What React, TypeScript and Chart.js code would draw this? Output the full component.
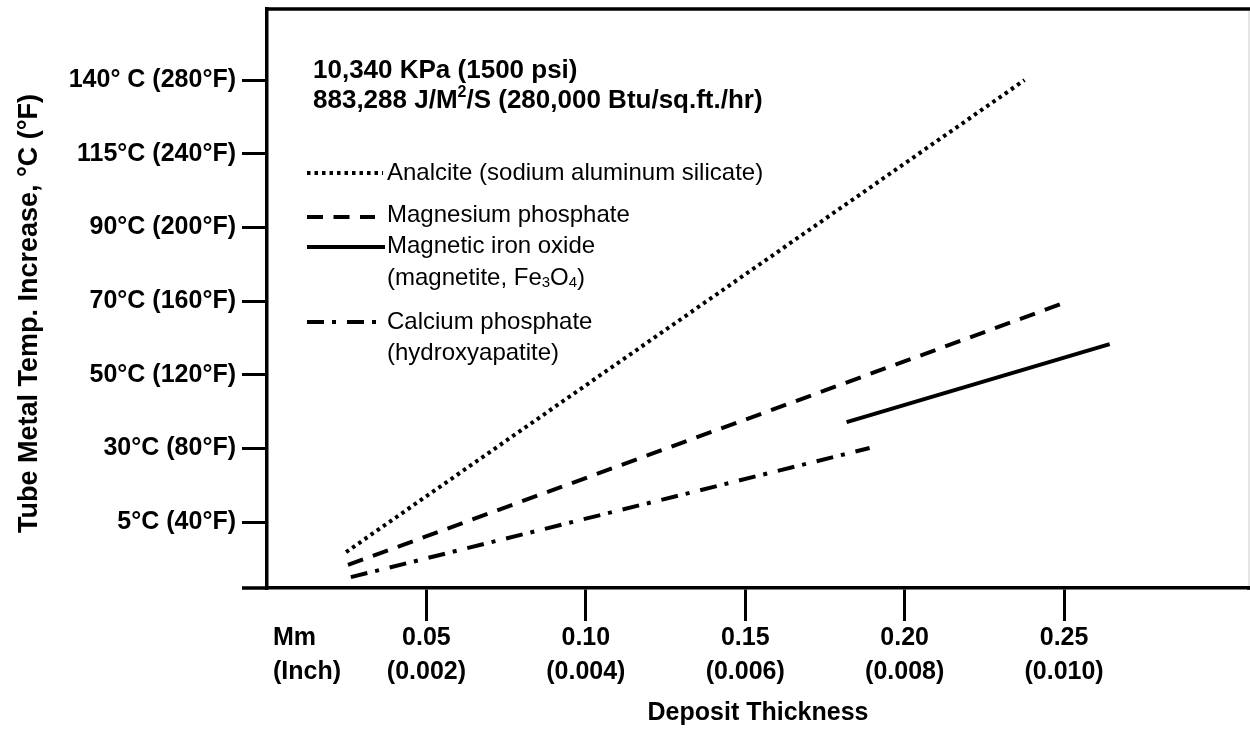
import React, { useEffect, useRef } from "react";
import { Chart, registerables } from "chart.js";
Chart.register(...registerables);

const FONT = "'Liberation Sans', Arial, Helvetica, sans-serif";

// X axis: deposit thickness (mm), with inch equivalents
const xTickValues = [0.05, 0.1, 0.15, 0.2, 0.25];
const xTickMm = ["0.05", "0.10", "0.15", "0.20", "0.25"];
const xTickInch = ["(0.002)", "(0.004)", "(0.006)", "(0.008)", "(0.010)"];
const xUnitLabels = ["Mm", "(Inch)"];

// Y axis: tube metal temperature increase (°F scale, labelled in °C and °F)
const yTickValues = [40, 80, 120, 160, 200, 240, 280];
const yTickLabels = [
  "5°C (40°F)",
  "30°C (80°F)",
  "50°C (120°F)",
  "70°C (160°F)",
  "90°C (200°F)",
  "115°C (240°F)",
  "140° C (280°F)",
];

// Series (x = mm, y = °F)
const analciteX = [0.0248, 0.2376];
const analciteY = [23.7, 280];
const magPhosX = [0.0254, 0.2508];
const magPhosY = [16.7, 159.5];
const magnetiteX = [0.1818, 0.2643];
const magnetiteY = [94.3, 136.6];
const calPhosX = [0.0263, 0.189];
const calPhosY = [10.1, 80.2];

const titleLine1 = [{ t: "10,340 KPa (1500 psi)" }];
const titleLine2 = [
  { t: "883,288 J/M" },
  { t: "2", sup: true },
  { t: "/S (280,000 Btu/sq.ft./hr)" },
];

type Seg = { t: string; sup?: boolean; sub?: boolean };

const DOT = [3.5, 4];
const DASH = [16, 10.5];
const DASHDOT = [17, 8, 4, 11];
const SOLID: number[] = [];

const legendItems: { dash: number[]; lines: Seg[][] }[] = [
  { dash: DOT, lines: [[{ t: "Analcite (sodium aluminum silicate)" }]] },
  { dash: DASH, lines: [[{ t: "Magnesium phosphate" }]] },
  {
    dash: SOLID,
    lines: [
      [{ t: "Magnetic iron oxide" }],
      [{ t: "(magnetite, Fe" }, { t: "3", sub: true }, { t: "O" }, { t: "4", sub: true }, { t: ")" }],
    ],
  },
  { dash: DASHDOT, lines: [[{ t: "Calcium phosphate" }], [{ t: "(hydroxyapatite)" }]] },
];

// legend layout (pixels)
const LEG_SAMPLE_X0 = 307;
const LEG_TEXT_X = 387;
const LEG_SAMPLE = [
  { y: 173, x1: 383 },
  { y: 217, x1: 375 },
  { y: 247, x1: 385 },
  { y: 322, x1: 378 },
];
const LEG_TEXT_Y = [[173], [215], [246, 278], [322, 353]];

function drawRich(ctx: CanvasRenderingContext2D, x: number, y: number, segs: Seg[], size: number, bold: boolean) {
  let cx = x;
  for (const s of segs) {
    const small = s.sup || s.sub;
    const fs = small ? Math.round(size * 0.62) : size;
    ctx.font = `${bold ? "bold " : ""}${fs}px ${FONT}`;
    const dy = s.sup ? -size * 0.33 : s.sub ? size * 0.22 : 0;
    ctx.fillText(s.t, cx, y + dy);
    cx += ctx.measureText(s.t).width;
  }
}

const decor = {
  id: "decor",
  afterDraw(chart: any) {
    const { ctx, chartArea: a } = chart;
    ctx.save();
    ctx.strokeStyle = "#000";
    ctx.lineWidth = 3.5;
    ctx.setLineDash([]);
    ctx.lineCap = "butt";
    // top frame line
    ctx.beginPath();
    ctx.moveTo(a.left - 1.75, a.top);
    ctx.lineTo(chart.width, a.top);
    ctx.stroke();
    // bottom axis extension
    ctx.beginPath();
    ctx.moveTo(a.left - 25, a.bottom);
    ctx.lineTo(a.left, a.bottom);
    ctx.moveTo(a.right - 2, a.bottom);
    ctx.lineTo(chart.width, a.bottom);
    ctx.stroke();
    // faint right edge
    ctx.strokeStyle = "#dcdcdc";
    ctx.lineWidth = 1.5;
    ctx.beginPath();
    ctx.moveTo(chart.width - 1, a.top + 2);
    ctx.lineTo(chart.width - 1, a.bottom - 2);
    ctx.stroke();

    ctx.fillStyle = "#000";
    ctx.textBaseline = "middle";
    ctx.textAlign = "left";
    // condition text
    drawRich(ctx, 313, 71, titleLine1, 26, true);
    drawRich(ctx, 313, 101, titleLine2, 26, true);

    // unit labels under x axis
    ctx.font = `bold 25px ${FONT}`;
    ctx.fillText(xUnitLabels[0], 273, 638);
    ctx.fillText(xUnitLabels[1], 273, 672);

    // legend
    ctx.strokeStyle = "#000";
    ctx.lineWidth = 4;
    legendItems.forEach((it, i) => {
      const s = LEG_SAMPLE[i];
      ctx.setLineDash(it.dash);
      ctx.beginPath();
      ctx.moveTo(LEG_SAMPLE_X0, s.y);
      ctx.lineTo(s.x1, s.y);
      ctx.stroke();
      ctx.setLineDash([]);
      it.lines.forEach((ln, j) => drawRich(ctx, LEG_TEXT_X, LEG_TEXT_Y[i][j], ln, 24, false));
    });
    ctx.restore();
  },
};

function series(xs: number[], ys: number[]) {
  return xs.map((x, i) => ({ x, y: ys[i] }));
}

export default function App() {
  const ref = useRef<HTMLCanvasElement>(null);
  useEffect(() => {
    document.body.style.margin = "0";
    const canvas = ref.current!;
    const common = {
      borderColor: "#000",
      borderWidth: 4,
      pointRadius: 0,
      fill: false,
      tension: 0,
      borderCapStyle: "butt" as const,
    };
    const chart = new Chart(canvas, {
      type: "line",
      data: {
        datasets: [
          { ...common, label: "Analcite (sodium aluminum silicate)", data: series(analciteX, analciteY), borderDash: DOT },
          { ...common, label: "Magnesium phosphate", data: series(magPhosX, magPhosY), borderDash: DASH },
          { ...common, label: "Magnetic iron oxide (magnetite, Fe3O4)", data: series(magnetiteX, magnetiteY), borderDash: SOLID },
          { ...common, label: "Calcium phosphate (hydroxyapatite)", data: series(calPhosX, calPhosY), borderDash: DASHDOT },
        ],
      },
      options: {
        responsive: false,
        maintainAspectRatio: false,
        animation: false,
        devicePixelRatio: 1,
        layout: { padding: { top: 9, right: 1, left: 0, bottom: 0 } },
        plugins: { legend: { display: false }, tooltip: { enabled: false }, title: { display: false } },
        scales: {
          x: {
            type: "linear",
            min: 0,
            max: 0.308,
            afterBuildTicks: (s: any) => {
              s.ticks = xTickValues.map((v) => ({ value: v }));
            },
            afterFit: (s: any) => {
              s.height = 141;
              s.paddingLeft = 0;
              s.paddingRight = 0;
            },
            ticks: {
              autoSkip: false,
              maxRotation: 0,
              minRotation: 0,
              padding: 0,
              color: "#000",
              font: { family: FONT, size: 25, weight: "bold", lineHeight: 1.36 },
              callback: (v: any) => {
                const i = xTickValues.findIndex((t) => Math.abs(t - Number(v)) < 1e-9);
                return i >= 0 ? [xTickMm[i], xTickInch[i]] : "";
              },
            },
            grid: {
              display: true,
              drawOnChartArea: false,
              drawTicks: true,
              tickLength: 33,
              tickWidth: 3,
              tickColor: "#000",
              color: "#000",
              lineWidth: 3,
            },
            border: { display: true, color: "#000", width: 3.5 },
            title: {
              display: true,
              text: "Deposit Thickness",
              color: "#000",
              font: { family: FONT, size: 25, weight: "bold", lineHeight: 1.2 },
              padding: { top: 0, bottom: 1 },
            },
          },
          y: {
            type: "linear",
            min: 4.2,
            max: 318.6,
            afterBuildTicks: (s: any) => {
              s.ticks = yTickValues.map((v) => ({ value: v }));
            },
            afterFit: (s: any) => {
              s.width = 267;
              s.paddingTop = 0;
              s.paddingBottom = 0;
            },
            ticks: {
              autoSkip: false,
              padding: 6,
              color: "#000",
              font: { family: FONT, size: 25, weight: "bold" },
              callback: (v: any) => {
                const i = yTickValues.findIndex((t) => Math.abs(t - Number(v)) < 1e-9);
                return i >= 0 ? yTickLabels[i] : "";
              },
            },
            grid: {
              display: true,
              drawOnChartArea: false,
              drawTicks: true,
              tickLength: 25,
              tickWidth: 3,
              tickColor: "#000",
              color: "#000",
              lineWidth: 3,
            },
            border: { display: true, color: "#000", width: 3.5 },
            title: {
              display: true,
              text: "Tube Metal Temp. Increase, °C (°F)\u00a0\u00a0\u00a0\u00a0",
              color: "#000",
              font: { family: FONT, size: 27, weight: "bold", lineHeight: 1.2 },
              padding: { top: 13, bottom: 0 },
            },
          },
        },
      },
      plugins: [decor],
    } as any);
    return () => chart.destroy();
  }, []);
  return (
    <div style={{ position: "absolute", left: 0, top: 0, width: 1250, height: 729, background: "#fff" }}>
      <canvas ref={ref} width={1250} height={729} style={{ display: "block", width: 1250, height: 729 }} />
    </div>
  );
}
